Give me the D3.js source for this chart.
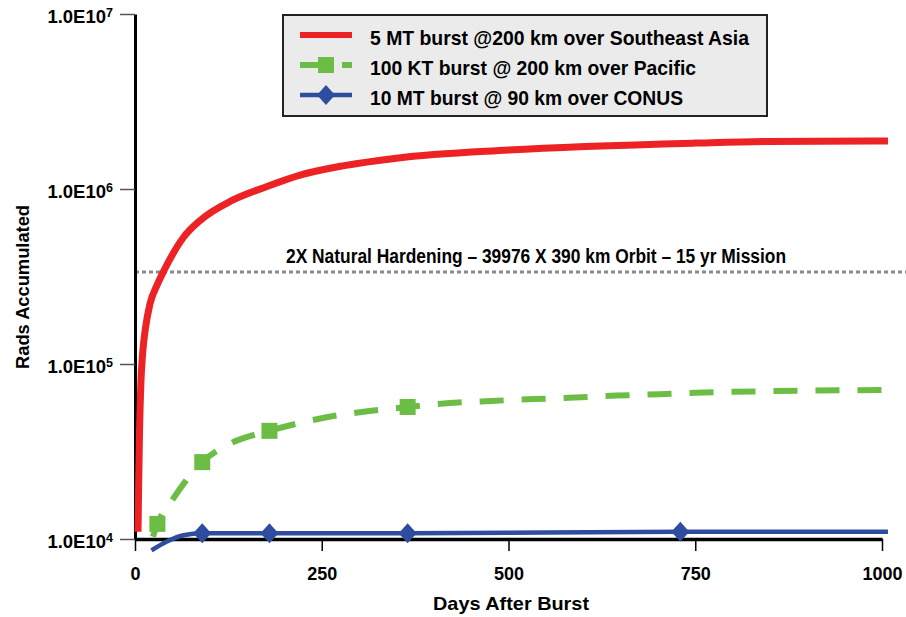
<!DOCTYPE html>
<html>
<head>
<meta charset="utf-8">
<script src="https://cdn.jsdelivr.net/npm/d3@7"></script>
<style>
  body { margin: 0; background: #fff; }
  svg { display: block; font-family: "Liberation Sans", Arial, sans-serif; font-weight: bold; }
</style>
</head>
<body>
<div id="holder"></div>
<script>
// values (days after burst, rads accumulated)
const days5MT = [4, 5, 6, 8, 10, 14, 20, 30, 40, 65, 87, 130, 176, 221, 280, 350, 500, 750, 850, 1008];
const rads5MT = [1.1e4, 2.2e4, 4.0e4, 8.0e4, 1.12e5, 1.6e5, 2.2e5, 2.85e5, 3.5e5, 5.3e5, 6.6e5, 8.6e5, 1.03e6, 1.2e6, 1.36e6, 1.5e6, 1.67e6, 1.83e6, 1.87e6, 1.88e6];

const days100KT = [24, 30, 50, 67, 90, 127, 180, 250, 365, 422, 477, 533, 589, 645, 703, 750, 1000];
const rads100KT = [1.03e4, 1.22e4, 1.67e4, 2.12e4, 2.75e4, 3.5e4, 4.15e4, 4.9e4, 5.68e4, 5.98e4, 6.15e4, 6.3e4, 6.43e4, 6.6e4, 6.72e4, 6.85e4, 7.1e4];
const marks100KT = [30, 90, 180, 365];

const days10MT = [22, 42, 65, 90, 180, 365, 730, 1008];
const rads10MT = [8.6e3, 9.65e3, 1.05e4, 1.08e4, 1.08e4, 1.08e4, 1.1e4, 1.1e4];
const marks10MT = [90, 180, 365, 730];

const hardeningLevel = 3.36e5;
const hardeningLabel = "2X Natural Hardening \u2013 39976 X 390 km Orbit \u2013 15 yr Mission";

const seriesNames = ["5 MT burst @200 km over Southeast Asia", "100 KT burst @ 200 km over Pacific", "10 MT burst @ 90 km over CONUS"];
const xTicks = [0, 250, 500, 750, 1000];
const yTicks = [1e4, 1e5, 1e6, 1e7];

const w = 906, h = 617;
const red = "#ed2224", green = "#6cbd45", blue = "#2e4d9e";

const svg = d3.select('#holder')
    .append('svg')
    .attr('width', w)
    .attr('height', h);

svg.append('rect').attr('width', w).attr('height', h).attr('fill', '#fff');

const x = d3.scaleLinear().domain([0, 1000]).range([135, 882]);
const y = d3.scaleLog().domain([1e4, 1e7]).range([539, 14]);

// value at a given day, taken from the series arrays
const valueAt = (days, rads, d) => rads[days.indexOf(d)];

// reference level
svg.append('line')
    .attr('x1', x(0)).attr('x2', w)
    .attr('y1', y(hardeningLevel)).attr('y2', y(hardeningLevel))
    .attr('stroke', '#8a8a8a')
    .attr('stroke-width', 3)
    .attr('stroke-dasharray', '4,3');

svg.append('text')
    .attr('x', 286)
    .attr('y', y(hardeningLevel) - 9)
    .attr('font-size', 20)
    .attr('textLength', 500)
    .attr('lengthAdjust', 'spacingAndGlyphs')
    .text(hardeningLabel);

// axes
const xAxis = d3.axisBottom(x)
    .tickValues(xTicks)
    .tickFormat(d3.format('d'))
    .tickSize(12)
    .tickSizeOuter(0)
    .tickPadding(16);

const yAxis = d3.axisLeft(y)
    .tickValues(yTicks)
    .tickSize(15)
    .tickSizeOuter(0)
    .tickPadding(7);

svg.append('g')
    .attr('transform', `translate(0,${y(1e4)})`)
    .call(xAxis)
    .call(g => {
        g.select('.domain').attr('stroke', '#000').attr('stroke-width', 3.5);
        g.selectAll('.tick line').attr('stroke', '#000').attr('stroke-width', 1.5);
        g.selectAll('.tick text')
            .attr('font-size', 18)
            .attr('font-family', '"Liberation Sans", Arial, sans-serif')
            .attr('font-weight', 'bold')
            .attr('fill', '#000');
    });

svg.append('g')
    .attr('transform', `translate(${x(0)},0)`)
    .call(yAxis)
    .call(g => {
        g.select('.domain').attr('stroke', '#000').attr('stroke-width', 3);
        g.selectAll('.tick line').attr('stroke', '#555').attr('stroke-width', 1.5);
        g.selectAll('.tick text')
            .attr('font-size', 18.5)
            .attr('font-family', '"Liberation Sans", Arial, sans-serif')
            .attr('font-weight', 'bold')
            .attr('fill', '#000')
            .attr('dy', 8)
            .each(function (d) {
                const t = d3.select(this);
                t.text('1.0E10');
                t.append('tspan')
                    .attr('dy', -6)
                    .attr('font-size', 12.5)
                    .text(Math.round(Math.log10(d)));
            });
    });

svg.append('text')
    .attr('x', 433)
    .attr('y', 610)
    .attr('font-size', 19)
    .attr('textLength', 156)
    .attr('lengthAdjust', 'spacingAndGlyphs')
    .text('Days After Burst');

svg.append('text')
    .attr('transform', 'translate(29,369) rotate(-90)')
    .attr('font-size', 19)
    .attr('textLength', 164)
    .attr('lengthAdjust', 'spacingAndGlyphs')
    .text('Rads Accumulated');

// curves
const line = d3.line()
    .x(d => x(d[0]))
    .y(d => y(d[1]))
    .curve(d3.curveMonotoneX);

svg.append('path')
    .datum(d3.zip(days100KT, rads100KT))
    .attr('d', line)
    .attr('fill', 'none')
    .attr('stroke', green)
    .attr('stroke-width', 6)
    .attr('stroke-dasharray', '24,18');

svg.selectAll('rect.kt')
    .data(marks100KT)
    .enter()
    .append('rect')
    .attr('class', 'kt')
    .attr('x', d => x(d) - 8)
    .attr('y', d => y(valueAt(days100KT, rads100KT, d)) - 8)
    .attr('width', 16)
    .attr('height', 16)
    .attr('fill', green);

svg.append('path')
    .datum(d3.zip(days10MT, rads10MT))
    .attr('d', line)
    .attr('fill', 'none')
    .attr('stroke', blue)
    .attr('stroke-width', 4.5);

const diamond = (cx, cy) => `M${cx},${cy - 10}L${cx + 9},${cy}L${cx},${cy + 10}L${cx - 9},${cy}Z`;

svg.selectAll('path.mt')
    .data(marks10MT)
    .enter()
    .append('path')
    .attr('class', 'mt')
    .attr('d', d => diamond(x(d), y(valueAt(days10MT, rads10MT, d))))
    .attr('fill', blue);

svg.append('path')
    .datum(d3.zip(days5MT, rads5MT))
    .attr('d', line)
    .attr('fill', 'none')
    .attr('stroke', red)
    .attr('stroke-width', 7);

// legend
svg.append('g')
    .attr('transform', 'translate(283,15)')
    .call(g => {
        g.append('rect')
            .attr('width', 484)
            .attr('height', 101)
            .attr('fill', '#ebebeb')
            .attr('stroke', '#222')
            .attr('stroke-width', 2);

        const rows = [20, 50, 80];
        const lengths = [379, 326, 313];

        g.append('line').attr('x1', 17).attr('x2', 69).attr('y1', rows[0]).attr('y2', rows[0])
            .attr('stroke', red).attr('stroke-width', 6);

        g.append('line').attr('x1', 17).attr('x2', 69).attr('y1', rows[1]).attr('y2', rows[1])
            .attr('stroke', green).attr('stroke-width', 6).attr('stroke-dasharray', '24,18');
        g.append('rect').attr('x', 35).attr('y', rows[1] - 8).attr('width', 16).attr('height', 16)
            .attr('fill', green);

        g.append('line').attr('x1', 17).attr('x2', 69).attr('y1', rows[2]).attr('y2', rows[2])
            .attr('stroke', blue).attr('stroke-width', 4.5);
        g.append('path').attr('d', diamond(43, rows[2])).attr('fill', blue);

        g.selectAll('text')
            .data(seriesNames)
            .enter()
            .append('text')
            .attr('x', 87)
            .attr('y', (d, i) => rows[i] + 10)
            .attr('font-size', 21)
            .attr('textLength', (d, i) => lengths[i])
            .attr('lengthAdjust', 'spacingAndGlyphs')
            .text(d => d);
    });
</script>
</body>
</html>
